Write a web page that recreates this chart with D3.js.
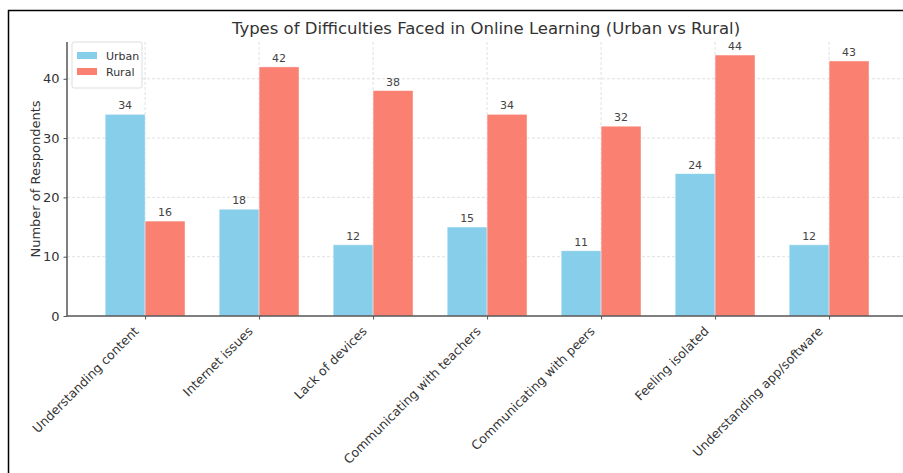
<!DOCTYPE html>
<html>
<head>
<meta charset="utf-8">
<script src="https://cdn.jsdelivr.net/npm/d3@7"></script>
<style>
  body { margin: 0; background: #fff; }
  svg { font-family: "DejaVu Sans", sans-serif; display: block; }
</style>
</head>
<body>
<div id="chart"></div>
<script>
var categories = ["Understanding content", "Internet issues", "Lack of devices",
    "Communicating with teachers", "Communicating with peers", "Feeling isolated",
    "Understanding app/software"];
var urban = [34, 18, 12, 15, 11, 24, 12];
var rural = [16, 42, 38, 34, 32, 44, 43];
var yTicks = [0, 10, 20, 30, 40];
var seriesNames = ["Urban", "Rural"];
var seriesColors = ["#87CEEB", "#FA8072"];

var canvas_width = 903,
    canvas_height = 473;
var fontName = "DejaVu Sans";

var svg = d3.select("div#chart")
    .append("svg")
    .attr("width", canvas_width)
    .attr("height", canvas_height);

// frame of the original figure (only top and left edges visible)
svg.append("line").attr("x1", 8).attr("x2", canvas_width).attr("y1", 10.5).attr("y2", 10.5)
    .attr("stroke", "#000").attr("stroke-width", 1.5);
svg.append("line").attr("x1", 8.5).attr("x2", 8.5).attr("y1", 10).attr("y2", canvas_height)
    .attr("stroke", "#000").attr("stroke-width", 1.5);

var margin = { top: 42, left: 67 };
var plotBottom = 316;
var step = 114;   // px per category
var barW = 0.35 * step;

// x in category units, matplotlib-like limits
var xScale = d3.scaleLinear()
    .domain([-0.685, 6.685])
    .range([margin.left, margin.left + 7.37 * step]);

var yScale = d3.scaleLinear()
    .domain([0, 46.2])
    .range([plotBottom, margin.top]);

var g = svg.append("g");

// grid
g.selectAll(".hgrid").data(yTicks.slice(1)).enter().append("line")
    .attr("x1", margin.left).attr("x2", canvas_width)
    .attr("y1", d => yScale(d)).attr("y2", d => yScale(d))
    .attr("stroke", "#d8d8d8").attr("stroke-width", 0.8).attr("stroke-dasharray", "3,2");
g.selectAll(".vgrid").data(categories).enter().append("line")
    .attr("x1", (d, i) => xScale(i)).attr("x2", (d, i) => xScale(i))
    .attr("y1", margin.top).attr("y2", plotBottom)
    .attr("stroke", "#d8d8d8").attr("stroke-width", 0.8).attr("stroke-dasharray", "3,2");

// bars
var series = [urban, rural];
series.forEach(function (vals, s) {
    var offset = s === 0 ? -barW : 0;
    g.selectAll(".bar" + s).data(vals).enter().append("rect")
        .attr("x", (d, i) => xScale(i) + offset)
        .attr("width", barW)
        .attr("y", d => yScale(d))
        .attr("height", d => plotBottom - yScale(d))
        .attr("fill", seriesColors[s])
        .attr("stroke", "#fff").attr("stroke-opacity", 0.5).attr("stroke-width", 0.8);
    g.selectAll(".lbl" + s).data(vals).enter().append("text")
        .attr("x", (d, i) => xScale(i) + offset + barW / 2)
        .attr("y", d => yScale(d) - 5)
        .attr("text-anchor", "middle")
        .style("font-size", "11px")
        .attr("fill", "#444")
        .text(d => d);
});

// axes
var yAxis = g.append("g")
    .attr("transform", "translate(" + margin.left + ",0)")
    .call(d3.axisLeft(yScale).tickValues(yTicks).tickSize(3.5).tickPadding(4))
    .attr("font-family", fontName);
yAxis.select(".domain").attr("stroke", "#555").attr("stroke-width", 1.5)
    .attr("d", "M0," + margin.top + "V" + plotBottom);
yAxis.selectAll(".tick line").attr("stroke", "#555");
yAxis.selectAll("text").style("font-size", "13px").attr("fill", "#333");

var xAxis = g.append("g")
    .attr("transform", "translate(0," + plotBottom + ")")
    .call(d3.axisBottom(xScale).tickValues(d3.range(categories.length))
        .tickFormat(i => categories[i]).tickSize(3.5).tickPadding(4))
    .attr("font-family", fontName);
xAxis.select(".domain").attr("stroke", "#555").attr("stroke-width", 1.5)
    .attr("d", "M" + margin.left + ",0H" + canvas_width);
xAxis.selectAll(".tick line").attr("stroke", "#555");
xAxis.selectAll("text")
    .style("font-size", "12.5px").attr("fill", "#333")
    .style("text-anchor", "end")
    .attr("y", 0).attr("dx", "0").attr("dy", "0")
    .attr("transform", "translate(-6,16) rotate(-45)");

// labels
svg.append("text")
    .attr("x", 486).attr("y", 34)
    .attr("text-anchor", "middle")
    .style("font-size", "16.5px")
    .attr("fill", "#333")
    .text("Types of Difficulties Faced in Online Learning (Urban vs Rural)");

svg.append("text")
    .attr("transform", "translate(40," + ((margin.top + plotBottom) / 2) + ") rotate(-90)")
    .attr("text-anchor", "middle")
    .style("font-size", "13px")
    .attr("fill", "#333")
    .text("Number of Respondents");

// legend
var lg = svg.append("g").attr("transform", "translate(72,42)");
lg.append("rect").attr("width", 70).attr("height", 46).attr("rx", 2)
    .attr("fill", "#fff").attr("fill-opacity", 0.8).attr("stroke", "#ddd");
seriesNames.forEach(function (name, i) {
    lg.append("rect").attr("x", 5).attr("y", 10 + i * 16).attr("width", 20).attr("height", 7)
        .attr("fill", seriesColors[i]);
    lg.append("text").attr("x", 34).attr("y", 17.5 + i * 16)
        .style("font-size", "11px").attr("fill", "#333").text(name);
});
</script>
</body>
</html>
